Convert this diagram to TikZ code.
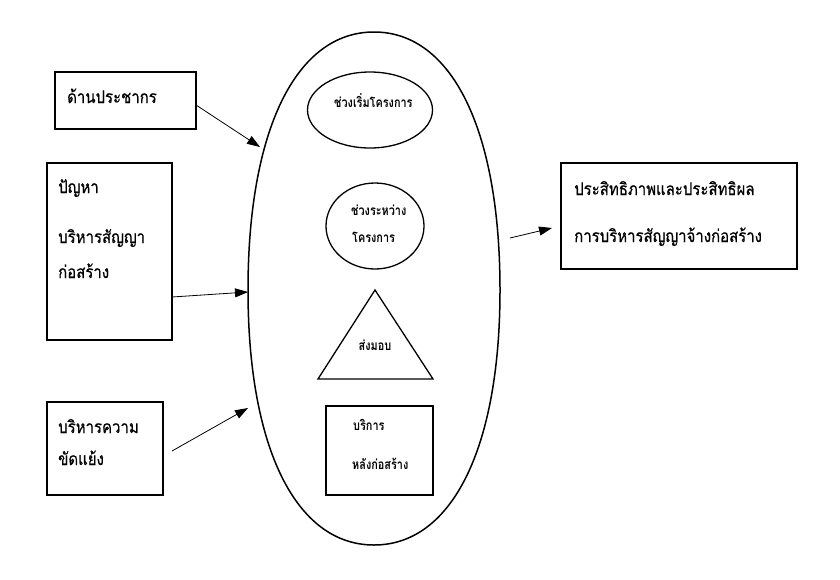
\documentclass[tikz,border=0pt]{standalone}
\usepackage{fontspec}
\newfontfamily\thai[Script=Thai,FakeStretch=0.86,FakeBold=0.6]{Loma}
\newfontfamily\thaib[Script=Thai,FakeStretch=0.8]{Loma Bold}
\usetikzlibrary{arrows.meta,shapes.geometric}
\begin{document}
\begin{tikzpicture}[x=1pt,y=-1pt,
  box/.style={draw,line width=1.2pt,inner sep=0pt},
  lbl/.style={anchor=base west,inner sep=0pt,font=\thai\fontsize{17.4}{17.4}\selectfont},
  inlbl/.style={anchor=base west,inner sep=0pt,font=\thaib\fontsize{13.6}{13.6}\selectfont},
  arr/.style={-{Triangle[length=13pt,width=9pt]},line width=0.8pt}]
\useasboundingbox (0,0) rectangle (840,579);
% big egg-shaped outline
\coordinate (bt) at (374,32);
\coordinate (bl) at (248,290);
\coordinate (bb) at (374,545);
\coordinate (br) at (500,290);
\draw[line width=1.5pt] (bt) .. controls (296,32) and (248,130) .. (bl)
  .. controls (248,448) and (296,545) .. (bb)
  .. controls (452,545) and (500,448) .. (br)
  .. controls (500,130) and (452,32) .. (bt) -- cycle;
% inner shapes
\node (e1) [draw,ellipse,line width=1.3pt,minimum width=125pt,minimum height=76pt,inner sep=0pt] at (370,110) {};
\node [inlbl] at (334,107) {ช่วงเริ่มโครงการ};
\node (e2) [draw,ellipse,line width=1.3pt,minimum width=98pt,minimum height=86pt,inner sep=0pt] at (375,226) {};
\node [inlbl] at (351,215) {ช่วงระหว่าง};
\node [inlbl] at (352,242) {โครงการ};
\coordinate (t1) at (375,290);
\coordinate (t2) at (433,379);
\coordinate (t3) at (318,379);
\draw[line width=1.3pt,line join=miter] (t1) -- (t2) -- (t3) -- cycle;
\node [inlbl,anchor=base] at (375,350) {ส่งมอบ};
\node (r1) [box,line width=1.5pt,minimum width=107pt,minimum height=89pt] at (379.5,450.5) {};
\node [inlbl] at (353,430) {บริการ};
\node [inlbl] at (352,469) {หลังก่อสร้าง};
% left boxes
\node (b1) [box,minimum width=141pt,minimum height=57pt] at (125.5,100.5) {};
\node [lbl] at (67,103) {ด้านประชากร};
\node (b2) [box,minimum width=125pt,minimum height=177pt] at (109.5,251.5) {};
\node [lbl] at (58,193) {ปัญหา};
\node [lbl] at (58,243) {บริหารสัญญา};
\node [lbl] at (58,278) {ก่อสร้าง};
\node (b3) [box,minimum width=116pt,minimum height=93pt] at (105,448.5) {};
\node [lbl] at (58,433) {บริหารความ};
\node [lbl] at (58,465) {ขัดแย้ง};
% right box
\node (b4) [box,minimum width=236pt,minimum height=106pt] at (679,216) {};
\node [lbl] at (574,195) {ประสิทธิภาพและประสิทธิผล};
\node [lbl] at (574,242) {การบริหารสัญญาจ้างก่อสร้าง};
% arrows
\coordinate (a1s) at (196,105);
\coordinate (a1e) at (260,147);
\coordinate (a2s) at (172,297);
\coordinate (a2e) at (248,292);
\coordinate (a3s) at (172,451);
\coordinate (a3e) at (248,408);
\coordinate (a4s) at (510,238);
\coordinate (a4e) at (552,228);
\draw[arr] (a1s) -- (a1e);
\draw[arr] (a2s) -- (a2e);
\draw[arr] (a3s) -- (a3e);
\draw[arr] (a4s) -- (a4e);
\end{tikzpicture}
\end{document}
